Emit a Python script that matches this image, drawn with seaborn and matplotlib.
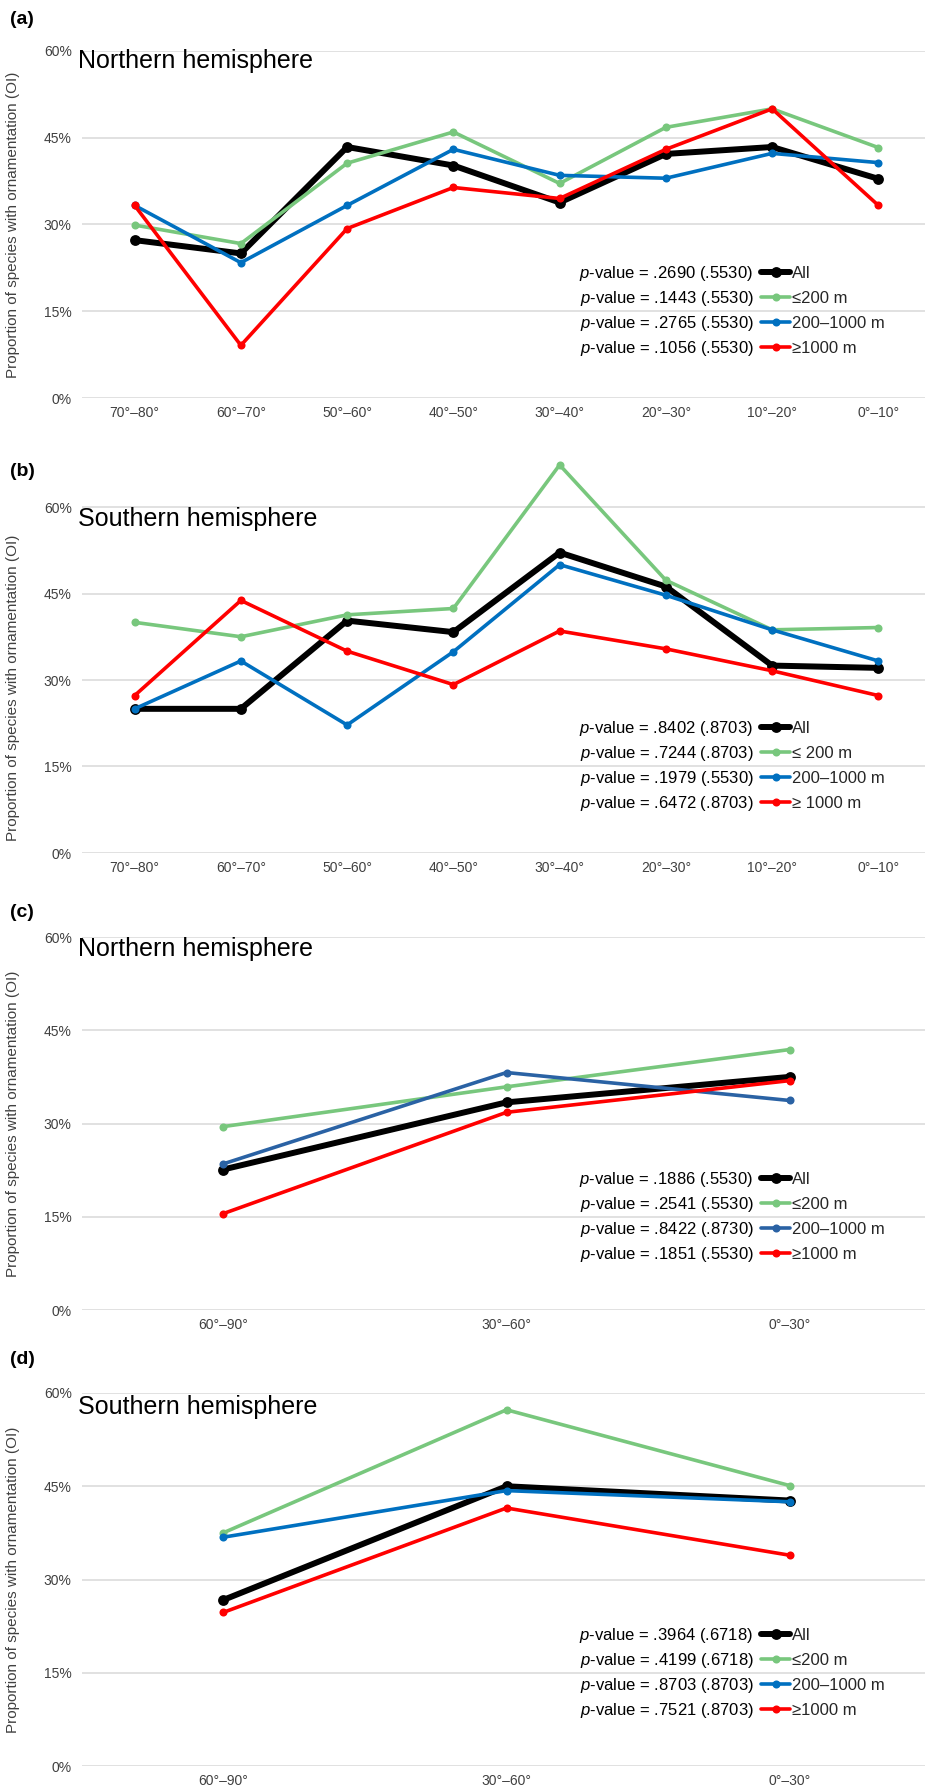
import matplotlib
matplotlib.use("Agg")
import matplotlib.pyplot as plt
import seaborn as sns

# ---------------- data ----------------
lat_fine = ["70°–80°", "60°–70°", "50°–60°", "40°–50°", "30°–40°", "20°–30°", "10°–20°", "0°–10°"]
lat_coarse = ["60°–90°", "30°–60°", "0°–30°"]

# (a) Northern hemisphere, 10° bands
a_all = [27.3, 25.0, 43.4, 40.2, 33.8, 42.2, 43.4, 37.9]
a_le200 = [29.9, 26.7, 40.6, 46.0, 37.1, 46.8, 50.0, 43.3]
a_mid = [33.3, 23.4, 33.3, 43.0, 38.5, 38.0, 42.3, 40.7]
a_ge1000 = [33.3, 9.1, 29.3, 36.4, 34.5, 43.0, 50.0, 33.3]

# (b) Southern hemisphere, 10° bands
b_all = [25.0, 25.0, 40.3, 38.3, 52.1, 46.2, 32.5, 32.1]
b_le200 = [40.0, 37.5, 41.3, 42.4, 67.3, 47.3, 38.7, 39.1]
b_mid = [25.0, 33.3, 22.2, 34.9, 50.0, 44.7, 38.7, 33.3]
b_ge1000 = [27.3, 43.8, 35.0, 29.2, 38.5, 35.4, 31.6, 27.3]

# (c) Northern hemisphere, 30° bands
c_all = [22.6, 33.4, 37.5]
c_le200 = [29.5, 35.9, 41.9]
c_mid = [23.5, 38.2, 33.7]
c_ge1000 = [15.5, 31.8, 36.9]

# (d) Southern hemisphere, 30° bands
d_all = [26.7, 45.0, 42.7]
d_le200 = [37.5, 57.3, 45.1]
d_mid = [36.8, 44.3, 42.5]
d_ge1000 = [24.7, 41.5, 33.9]

names_nospace = ["All", "≤200 m", "200–1000 m", "≥1000 m"]
names_space = ["All", "≤ 200 m", "200–1000 m", "≥ 1000 m"]

pvals_a = [".2690 (.5530)", ".1443 (.5530)", ".2765 (.5530)", ".1056 (.5530)"]
pvals_b = [".8402 (.8703)", ".7244 (.8703)", ".1979 (.5530)", ".6472 (.8703)"]
pvals_c = [".1886 (.5530)", ".2541 (.5530)", ".8422 (.8730)", ".1851 (.5530)"]
pvals_d = [".3964 (.6718)", ".4199 (.6718)", ".8703 (.8703)", ".7521 (.8703)"]

y_ticks = [0, 15, 30, 45, 60]
y_ticklabels = ["0%", "15%", "30%", "45%", "60%"]

# ---------------- style ----------------
sns.set_theme(style="white")
plt.rcParams['font.family'] = ['Liberation Sans', 'DejaVu Sans']
plt.rcParams['mathtext.fontset'] = 'custom'
plt.rcParams['mathtext.it'] = 'Liberation Sans:italic'
plt.rcParams['mathtext.rm'] = 'Liberation Sans'

W, H = 925, 1792
fig = plt.figure(figsize=(W / 100, H / 100), dpi=100)

GREEN = "#78C77D"
BLUE = "#0070C0"
BLUE_DARK = "#2A62A4"
RED = "#FF0000"
BLACK = "#000000"
TICK_C = "#404040"

panels = [
    dict(letter="(a)", title="Northern hemisphere", lat=lat_fine,
         series=[a_all, a_le200, a_mid, a_ge1000], names=names_nospace, pvals=pvals_a,
         blue=BLUE, y0=398, y60=51, ymax=60, ly=19, tb=68, legc=311, ylab=0.5),
    dict(letter="(b)", title="Southern hemisphere", lat=lat_fine,
         series=[b_all, b_le200, b_mid, b_ge1000], names=names_space, pvals=pvals_b,
         blue=BLUE, y0=853, y60=507, ymax=70, ly=471, tb=526, legc=766, ylab=0.41),
    dict(letter="(c)", title="Northern hemisphere", lat=lat_coarse,
         series=[c_all, c_le200, c_mid, c_ge1000], names=names_nospace, pvals=pvals_c,
         blue=BLUE_DARK, y0=1310, y60=937, ymax=60, ly=912, tb=956, legc=1217, ylab=0.5),
    dict(letter="(d)", title="Southern hemisphere", lat=lat_coarse,
         series=[d_all, d_le200, d_mid, d_ge1000], names=names_nospace, pvals=pvals_d,
         blue=BLUE, y0=1766, y60=1393, ymax=60, ly=1359, tb=1414, legc=1673, ylab=0.5),
]

AX_LEFT = 81.5
AX_W = 850.0

legends = []
for p in panels:
    px_per_unit = (p["y0"] - p["y60"]) / 60.0
    height_px = px_per_unit * p["ymax"]
    ax = fig.add_axes([AX_LEFT / W, 1 - p["y0"] / H, AX_W / W, height_px / H])
    colors = [BLACK, GREEN, p["blue"], RED]
    lws = [4.3, 2.6, 2.6, 2.6]
    mss = [7.8, 5.8, 5.8, 5.8]
    for vals, name, col, lw, ms in zip(p["series"], p["names"], colors, lws, mss):
        sns.lineplot(x=p["lat"], y=vals, ax=ax, color=col, linewidth=lw, marker="o",
                     markersize=ms, markeredgewidth=0, label=name, sort=False,
                     solid_capstyle="round", solid_joinstyle="round")
    n = len(p["lat"])
    ax.set_xlim(-0.5, n - 0.5)
    ax.set_ylim(0, p["ymax"])
    ax.set_yticks(y_ticks)
    ax.set_yticklabels(y_ticklabels)
    ax.yaxis.grid(True, color="#D9D9D9", linewidth=1.1)
    ax.xaxis.grid(False)
    ax.set_axisbelow(True)
    sns.despine(ax=ax, left=True, bottom=True)
    ax.tick_params(axis="both", length=0, labelsize=10, labelcolor=TICK_C)
    ax.tick_params(axis="x", pad=6)
    ax.tick_params(axis="y", pad=7)
    ax.set_xlabel("")
    ax.set_ylabel("Proportion of species with ornamentation (OI)", fontsize=11, color=TICK_C)
    ax.yaxis.set_label_coords((20 - AX_LEFT) / AX_W, p["ylab"])

    handles, labels = ax.get_legend_handles_labels()
    leg = ax.legend(handles, labels, loc="center left",
                    bbox_to_anchor=(761 / W, 1 - p["legc"] / H),
                    bbox_transform=fig.transFigure, frameon=False, fontsize=12,
                    handlelength=1.75, handletextpad=0.08, labelspacing=0.6,
                    borderpad=0, borderaxespad=0)
    legends.append((leg, p["pvals"]))

    fig.text(10 / W, 1 - p["ly"] / H, p["letter"], fontsize=14, fontweight="bold",
             ha="left", va="center", color="black")
    fig.text(78 / W, 1 - p["tb"] / H, p["title"], fontsize=18,
             ha="left", va="baseline", color="black")

fig.canvas.draw()
renderer = fig.canvas.get_renderer()
for leg, pvals in legends:
    for txt, hdl, pv in zip(leg.get_texts(), leg.legend_handles, pvals):
        hb = hdl.get_window_extent(renderer)
        bx, by = txt.get_transform().transform(txt.get_position())
        fig.text((hb.x0 - 3) / W, by / H, r"$\it{p}$" + "-value = " + pv,
                 fontsize=12, ha="right", va="baseline", color="black")

fig.savefig("out.png", dpi=100, facecolor="white")
